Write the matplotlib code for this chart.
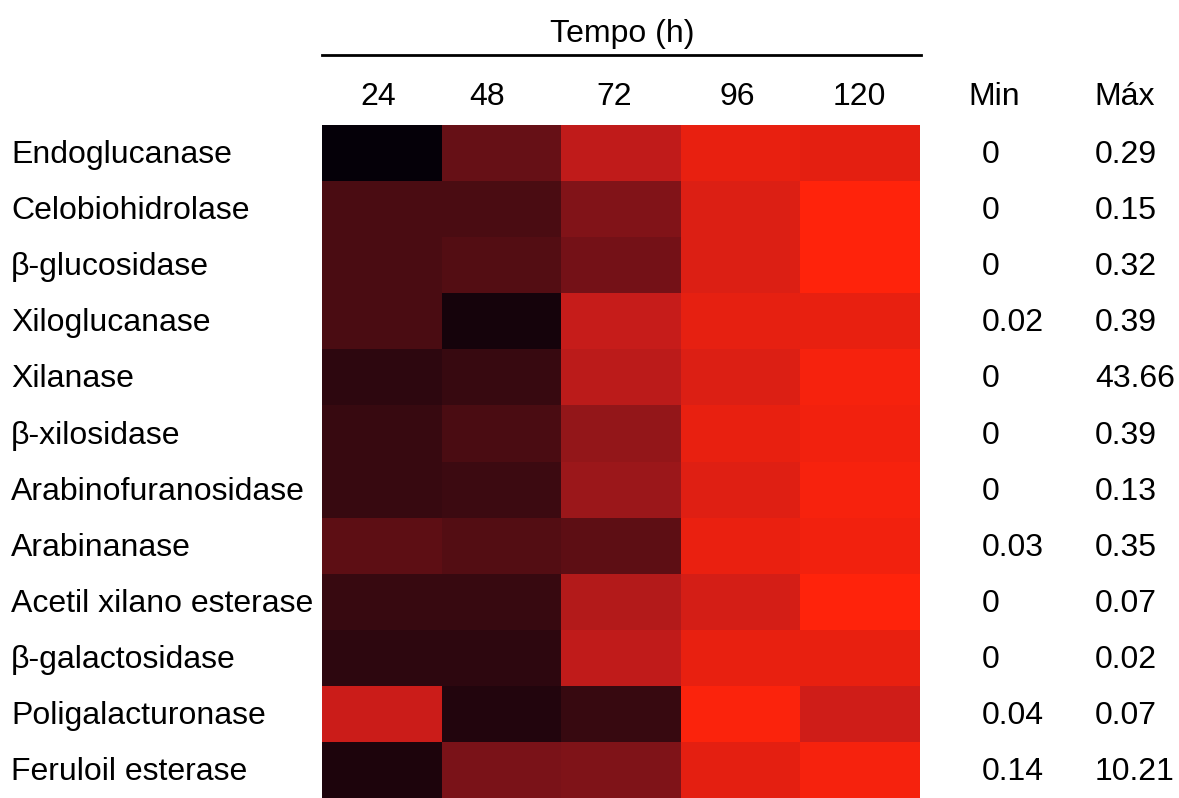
import numpy as np
import matplotlib
matplotlib.use("Agg")
import matplotlib.pyplot as plt
from matplotlib.colors import LinearSegmentedColormap
from matplotlib import transforms

# Enzymes (rows) and sampling times (columns)
enzymes = ["Endoglucanase", "Celobiohidrolase", "β-glucosidase", "Xiloglucanase",
           "Xilanase", "β-xilosidase", "Arabinofuranosidase", "Arabinanase",
           "Acetil xilano esterase", "β-galactosidase", "Poligalacturonase",
           "Feruloil esterase"]
times = ["24", "48", "72", "96", "120"]

# Relative activity per enzyme (scaled 0-1 within each row)
activity = np.array([
    [0.00, 0.39, 0.72, 0.88, 0.86],
    [0.30, 0.30, 0.48, 0.83, 1.00],
    [0.30, 0.33, 0.43, 0.83, 1.00],
    [0.30, 0.06, 0.74, 0.87, 0.88],
    [0.15, 0.20, 0.70, 0.83, 0.95],
    [0.20, 0.30, 0.55, 0.88, 0.93],
    [0.20, 0.23, 0.58, 0.84, 0.96],
    [0.36, 0.33, 0.36, 0.89, 0.93],
    [0.20, 0.20, 0.67, 0.80, 1.00],
    [0.15, 0.15, 0.72, 0.88, 0.88],
    [0.76, 0.11, 0.20, 0.98, 0.78],
    [0.09, 0.45, 0.47, 0.86, 0.95],
])

# Absolute minimum and maximum activity per enzyme
act_min = ["0", "0", "0", "0.02", "0", "0", "0", "0.03", "0", "0", "0.04", "0.14"]
act_max = ["0.29", "0.15", "0.32", "0.39", "43.66", "0.39", "0.13", "0.35",
           "0.07", "0.02", "0.07", "10.21"]

plt.rcParams["font.family"] = ["Liberation Sans", "DejaVu Sans"]
FS = 23

cmap = LinearSegmentedColormap.from_list("blackred", [
    (0.00, "#050008"), (0.15, "#2d070f"), (0.30, "#4a0c12"), (0.45, "#7a1218"),
    (0.60, "#a0181a"), (0.75, "#c81c1a"), (0.88, "#e82010"), (1.00, "#ff230b"),
])

W, H = 1179, 798
fig = plt.figure(figsize=(W / 100, H / 100), dpi=100)
ax = fig.add_axes([322 / W, 0, 598 / W, 673 / H])

nr, nc = activity.shape
ax.pcolormesh(np.arange(nc + 1) - 0.5, np.arange(nr + 1) - 0.5, activity,
              cmap=cmap, vmin=0, vmax=1, shading="flat")
ax.set_xlim(-0.5, nc - 0.5)
ax.set_ylim(nr - 0.5, -0.5)
ax.axis("off")

# Row labels and min / max columns (x in figure fraction, y in data units)
row_tf = transforms.blended_transform_factory(fig.transFigure, ax.transData)
base_off = 0.18
for i, name in enumerate(enzymes):
    y = i + base_off
    fig.text(11 / W, y, name, transform=row_tf, fontsize=FS, ha="left", va="baseline")
    fig.text(982 / W, y, act_min[i], transform=row_tf, fontsize=FS, ha="left", va="baseline")
    fig.text(1095 / W, y, act_max[i], transform=row_tf, fontsize=FS, ha="left", va="baseline")

# Column headers
head_y = 1 - 105 / H
col_tf = transforms.blended_transform_factory(ax.transData, fig.transFigure)
col_shift = [-0.03, -0.12, -0.06, -0.03, -0.01]
for j, t in enumerate(times):
    fig.text(j + col_shift[j], head_y, t, transform=col_tf, fontsize=FS,
             ha="center", va="baseline")
fig.text(994 / W, head_y, "Min", fontsize=FS, ha="center", va="baseline")
fig.text(1094 / W, head_y, "Máx", fontsize=FS, ha="left", va="baseline")

# Time group title with rule
fig.text(622 / W, 1 - 42 / H, "Tempo (h)", fontsize=FS, ha="center", va="baseline")
fig.add_artist(plt.Line2D([322 / W, 921 / W], [1 - 55 / H, 1 - 55 / H],
                          transform=fig.transFigure, color="black", lw=2))

fig.savefig("out.png", dpi=100)
